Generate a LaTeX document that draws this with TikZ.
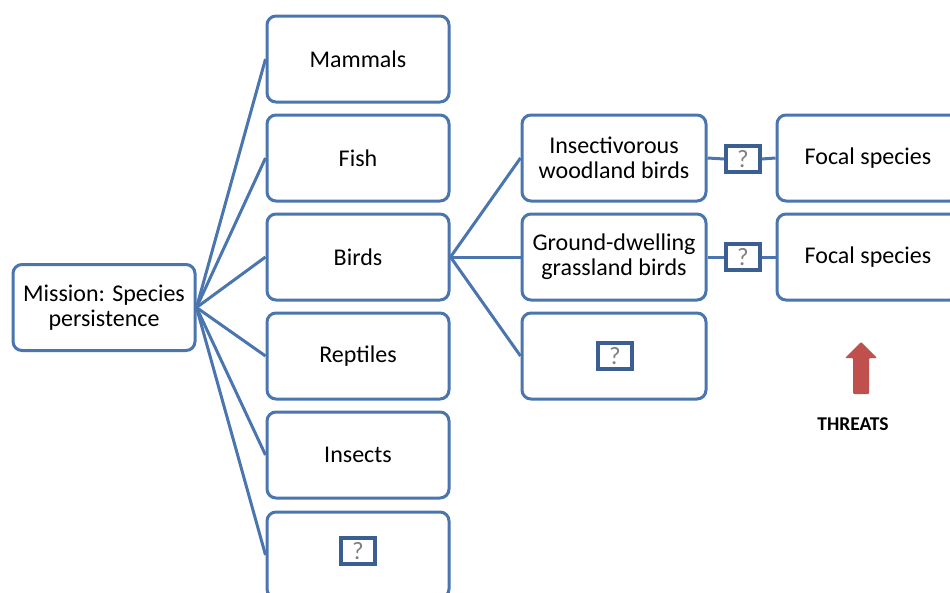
\documentclass[tikz,border=0pt]{standalone}
\usepackage{fontspec}
\setmainfont{Carlito}
\definecolor{boxblue}{RGB}{74,117,175}
\definecolor{qblue}{RGB}{60,95,145}
\definecolor{qgray}{RGB}{128,128,128}
\definecolor{threatred}{RGB}{192,80,77}
\tikzset{
  card/.style={draw=boxblue, line width=3pt, rounded corners=9pt, fill=white,
    minimum width=182pt, minimum height=86pt, align=center, font=\fontsize{24}{25}\selectfont, inner sep=2pt},
  qbox/.style={draw=qblue, line width=3.5pt, fill=white, minimum width=34pt, minimum height=26pt,
    inner sep=0pt, text=qgray, font=\fontsize{25}{25}\selectfont},
  link/.style={draw=boxblue, line width=3pt},
}
\begin{document}
\begin{tikzpicture}[x=1pt,y=-1pt]
\useasboundingbox (0,0) rectangle (950,592);
\clip (0,0) rectangle (950,592);
\node[card] (mission) at (104,307.5) {Mission: Species\\persistence};
\node[card] (mammals) at (358,59) {Mammals};
\node[card] (fish) at (358,158) {Fish};
\node[card] (birds) at (358,257) {Birds};
\node[card] (reptiles) at (358,356) {Reptiles};
\node[card] (insects) at (358,455) {Insects};
\node[card] (other) at (358,555) {};
\node[qbox] (otherq) at (358,551) {?};
\node[card, minimum width=184pt] (insect) at (614,158) {Insectivorous\\woodland birds};
\node[card, minimum width=184pt] (ground) at (614,257) {Ground-dwelling\\grassland birds};
\node[card, minimum width=184pt] (birdother) at (614,356) {};
\node[qbox] (birdq) at (615,356) {?};
\node[card] (focal1) at (868,158) {Focal species};
\node[card] (focal2) at (868,257) {Focal species};
\node[qbox] (q1) at (743,159) {?};
\node[qbox] (q2) at (743,257) {?};
\foreach \t in {mammals,fish,birds,reptiles,insects,other}
  \draw[link] (mission.east) -- (\t.west);
\foreach \t in {insect,ground,birdother}
  \draw[link] (birds.east) -- (\t.west);
\draw[link] (insect.east) -- (q1.west);
\draw[link] (q1.east) -- (focal1.west);
\draw[link] (ground.east) -- (q2.west);
\draw[link] (q2.east) -- (focal2.west);
\fill[threatred, rounded corners=1pt] (861,342) -- (877,358) -- (869,358) -- (869,394) -- (853,394) -- (853,358) -- (845,358) -- cycle;
\node[font=\bfseries\fontsize{19.5}{19.5}\selectfont] (threats) at (853,424) {THREATS};
\end{tikzpicture}
\end{document}
